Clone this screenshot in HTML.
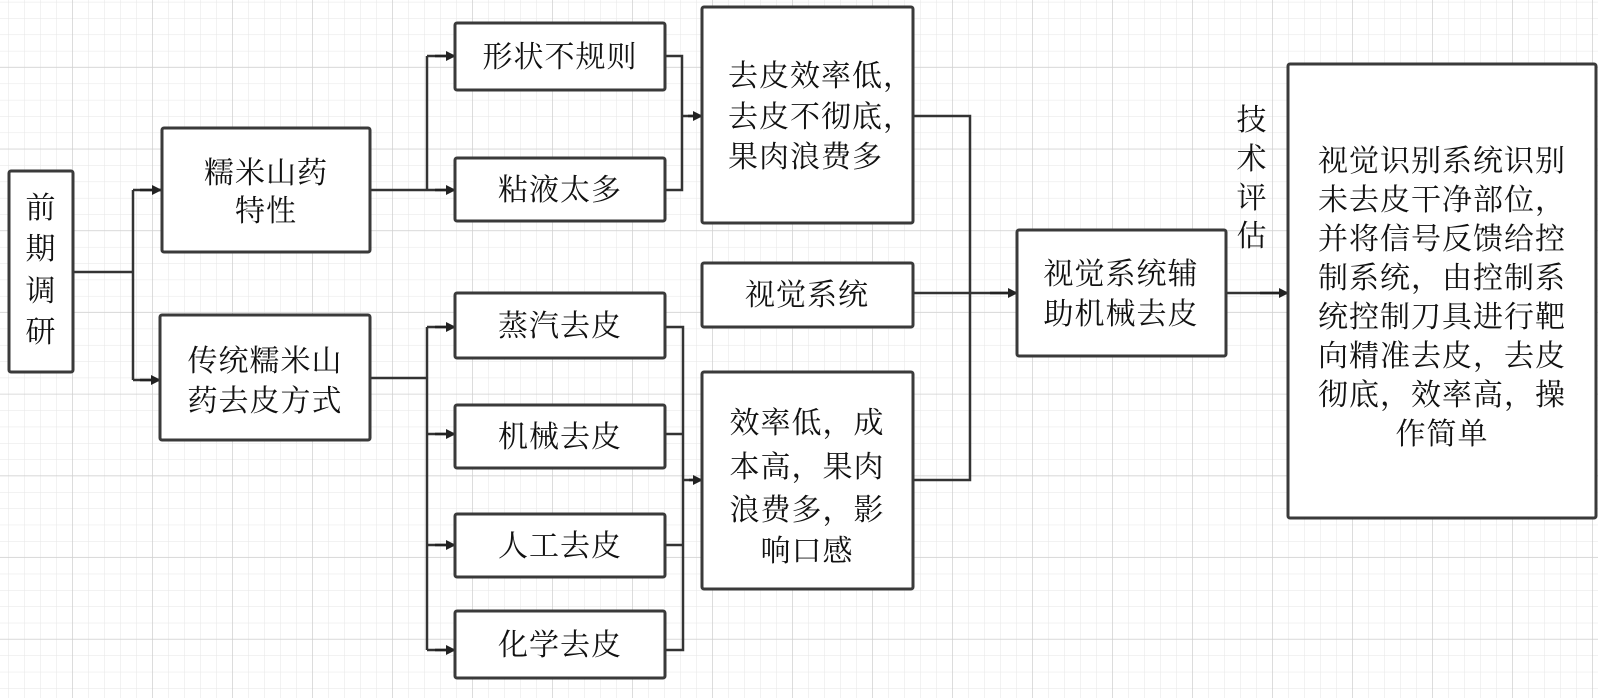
<!DOCTYPE html>
<html><head><meta charset="utf-8"><style>
html,body{margin:0;padding:0;background:#fff;}
svg{display:block}
text{font-family:"Liberation Serif","Noto Serif CJK SC",serif;font-size:30px;fill:#111;letter-spacing:1px}
</style></head><body>
<svg width="1598" height="698" viewBox="0 0 1598 698" xmlns="http://www.w3.org/2000/svg">
<defs>
<pattern id="minor" x="-7" y="-14" width="16" height="16.34" patternUnits="userSpaceOnUse">
<path d="M16 0V16.34M0 16.34H16" stroke="#e6e6e6" stroke-width="1" fill="none"/>
</pattern>
<pattern id="major" x="-7" y="-14" width="80" height="81.7" patternUnits="userSpaceOnUse">
<path d="M80 0V81.7M0 81.7H80" stroke="#d0d0d0" stroke-width="1.5" fill="none"/>
</pattern>
<marker id="ar" markerWidth="10" markerHeight="10" refX="9" refY="5" orient="auto" markerUnits="userSpaceOnUse">
<path d="M0,0 L10,5 L0,10 Z" fill="#222"/>
</marker>
</defs>
<rect width="1598" height="698" fill="#fff"/>
<rect width="1598" height="698" fill="url(#minor)"/>
<rect width="1598" height="698" fill="url(#major)"/>

<g fill="none" stroke="#333" stroke-width="2.5">
<!-- connectors -->
<path d="M73 272H133M133 190V380M133 190H161M133 380H159" />
<path d="M370 190H427M427 56V190M427 56H454M427 190H454"/>
<path d="M665 56H682V190H665M682 116H701"/>
<path d="M370 378H427M427 327V650M427 327H454M427 434H454M427 545H454M427 650H454"/>
<path d="M665 327H683V650H665M665 434H683M665 545H683M683 480H701"/>
<path d="M913 116H970V480H913M913 293H1016"/>
<path d="M1226 293H1287"/>
</g>
<g stroke="#222" stroke-width="2.5" fill="none">
<path d="M140 190H161" marker-end="url(#ar)"/>
<path d="M140 380H160" marker-end="url(#ar)"/>
<path d="M435 56H455" marker-end="url(#ar)"/>
<path d="M435 190H455" marker-end="url(#ar)"/>
<path d="M688 116H702" marker-end="url(#ar)"/>
<path d="M435 327H455" marker-end="url(#ar)"/>
<path d="M435 434H455" marker-end="url(#ar)"/>
<path d="M435 545H455" marker-end="url(#ar)"/>
<path d="M435 650H455" marker-end="url(#ar)"/>
<path d="M689 480H702" marker-end="url(#ar)"/>
<path d="M990 293H1017" marker-end="url(#ar)"/>
<path d="M1260 293H1288" marker-end="url(#ar)"/>
</g>

<!-- boxes -->
<g fill="#fff" stroke="#3a3a3a" stroke-width="3">
<rect x="9" y="171" width="64" height="201" rx="2"/>
<rect x="162" y="128" width="208" height="124" rx="2"/>
<rect x="160" y="315" width="210" height="125" rx="2"/>
<rect x="455" y="23" width="210" height="67" rx="2"/>
<rect x="455" y="158" width="210" height="63" rx="2"/>
<rect x="702" y="7" width="211" height="216" rx="2"/>
<rect x="455" y="293" width="210" height="65" rx="2"/>
<rect x="455" y="405" width="210" height="63" rx="2"/>
<rect x="455" y="514" width="210" height="63" rx="2"/>
<rect x="455" y="611" width="210" height="67" rx="2"/>
<rect x="702" y="263" width="211" height="64" rx="2"/>
<rect x="702" y="372" width="211" height="217" rx="2"/>
<rect x="1017" y="230" width="209" height="126" rx="2"/>
<rect x="1288" y="64" width="308" height="454" rx="2"/>
</g>

<g text-anchor="middle">
<text x="41" y="218">前</text>
<text x="41" y="259">期</text>
<text x="41" y="301">调</text>
<text x="41" y="342">研</text>
<text x="266" y="183">糯米山药</text>
<text x="266" y="221">特性</text>
<text x="265" y="371">传统糯米山</text>
<text x="265" y="411">药去皮方式</text>
<text x="560" y="67">形状不规则</text>
<text x="560" y="200">粘液太多</text>
<text x="560" y="336">蒸汽去皮</text>
<text x="560" y="447">机械去皮</text>
<text x="560" y="556">人工去皮</text>
<text x="560" y="655">化学去皮</text>
<text x="807" y="305">视觉系统</text>
<text x="807" y="433">效率低，成</text>
<text x="807" y="477">本高，果肉</text>
<text x="807" y="520">浪费多，影</text>
<text x="807" y="561">响口感</text>
<text x="1121" y="284">视觉系统辅</text>
<text x="1121" y="324">助机械去皮</text>
<text x="1252" y="130">技</text>
<text x="1252" y="169">术</text>
<text x="1252" y="208">评</text>
<text x="1252" y="246">估</text>
<text x="1442" y="171">视觉识别系统识别</text>
<text x="1442" y="210">未去皮干净部位，</text>
<text x="1442" y="249">并将信号反馈给控</text>
<text x="1442" y="288">制系统，由控制系</text>
<text x="1442" y="327">统控制刀具进行靶</text>
<text x="1442" y="366">向精准去皮，去皮</text>
<text x="1442" y="405">彻底，效率高，操</text>
<text x="1442" y="444">作简单</text>
</g>
<g>
<text x="728" y="86">去皮效率低，</text>
<text x="728" y="127">去皮不彻底，</text>
<text x="728" y="167">果肉浪费多</text>
</g>
</svg>
</body></html>
